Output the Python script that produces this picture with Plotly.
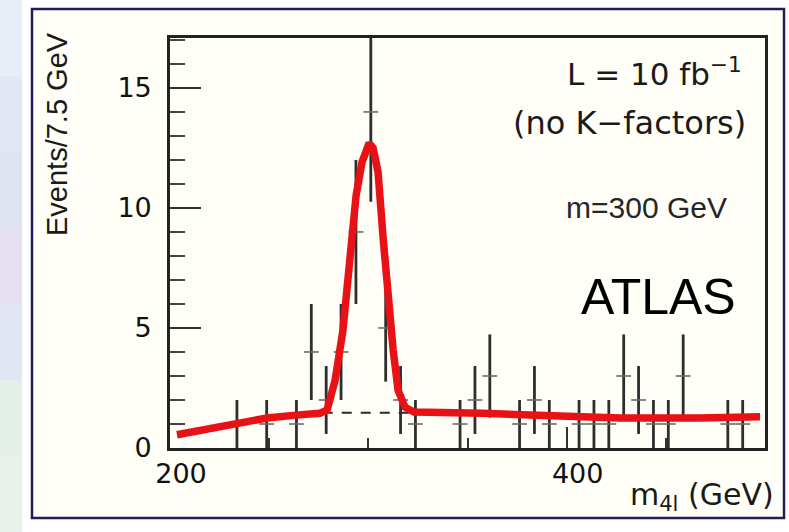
import numpy as np
import plotly.graph_objects as go

# ---- data -------------------------------------------------------------
# four-lepton invariant mass histogram, 7.5 GeV bins from 200 to 500 GeV
bin_low = 200.0
bin_width = 7.5
counts = [0, 0, 0, 0, 1, 0, 1, 0, 1, 4,
          2, 4, 9, 14, 5, 2, 1, 0, 0, 1,
          2, 3, 0, 1, 2, 1, 0, 1, 1, 1,
          3, 2, 1, 1, 3, 0, 0, 1, 1, 0]

# signal + background expectation (red curve)
fit_m = [203.5, 233.8, 248.9, 263.5, 275.6, 279.2, 283.2, 287.2, 290.8,
         293.8, 296.8, 298.8, 300.4, 302.4, 304.9, 307.4, 309.9, 312.5, 315.0,
         318.5, 323.0, 341.2, 357.8, 381.5, 401.7, 426.9, 467.3, 497.5]
fit_y = [0.55, 1.03, 1.25, 1.37, 1.45, 1.58, 2.8, 4.9, 8.25,
         10.5, 11.9, 12.45, 12.7, 12.5, 11.5, 8.8, 6.3, 4.1, 2.4,
         1.7, 1.5, 1.5, 1.45, 1.37, 1.3, 1.25, 1.25, 1.3]

# background-only level under the peak (dashed)
bkg_m = [277.0, 323.0]
bkg_y = [1.47, 1.47]

y_ticks = [0, 5, 10, 15]
x_ticks = [200, 400]

# ---- geometry ---------------------------------------------------------
W, H = 789, 532
L, R, T, B = 170, 765, 38, 448


def px(x):
    return (x - L) / (R - L)


def py(y):
    return (B - y) / (B - T)


centers = [bin_low + bin_width * (i + 0.5) for i in range(len(counts))]
sel = [i for i, n in enumerate(counts) if n > 0]
dm = [centers[i] for i in sel]
dn = [counts[i] for i in sel]
derr = [float(np.sqrt(n)) for n in dn]

fig = go.Figure()

# background dashed line
fig.add_trace(go.Scatter(
    x=bkg_m, y=bkg_y, mode="lines",
    line=dict(color="#2a2a2a", width=2, dash="10px,9px"),
    hoverinfo="skip", showlegend=False))

# data points with Poisson errors and bin-width bars
fig.add_trace(go.Scatter(
    x=dm, y=dn, mode="markers",
    marker=dict(size=1, color="rgba(0,0,0,0)"),
    error_y=dict(type="data", array=derr, visible=True,
                 color="#2e2e2e", thickness=2.8, width=0),
    error_x=dict(type="constant", value=bin_width / 2, visible=True,
                 color="#6a6a6a", thickness=1.6, width=0),
    showlegend=False))

# expectation curve
fig.add_trace(go.Scatter(
    x=fit_m, y=fit_y, mode="lines",
    line=dict(color="rgb(232,18,22)", width=7.5),
    showlegend=False))

shapes = []
# light slide strip on the far left
strip = ["#e9edf7", "#e2e7f4", "#dfe2f1", "#e6dff0", "#e1e6f2", "#e3efe8", "#e8f1ec"]
n = len(strip)
for k, c in enumerate(strip):
    y0 = k * H / n
    y1 = (k + 1) * H / n
    shapes.append(dict(type="rect", xref="paper", yref="paper",
                       x0=px(0), x1=px(22), y0=py(y1), y1=py(y0),
                       fillcolor=c, line=dict(width=0), layer="below"))
# framed panel
shapes.append(dict(type="rect", xref="paper", yref="paper",
                   x0=px(32), x1=px(784), y0=py(518), y1=py(9),
                   fillcolor="#fffef7", line=dict(color="#1c1c5e", width=2.5),
                   layer="below"))

anns = [
    dict(text="Events/7.5 GeV", x=px(57), y=py(134), textangle=-90,
         font=dict(family="Liberation Sans", size=29, color="#1a1a1a"),
         xanchor="center", yanchor="middle"),
    dict(text="L = 10 fb<sup>−1</sup>", x=px(744), y=py(72),
         font=dict(family="DejaVu Sans", size=31, color="#1a1a1a"),
         xanchor="right", yanchor="middle"),
    dict(text="(no K−factors)", x=px(748), y=py(123),
         font=dict(family="DejaVu Sans", size=32, color="#1a1a1a"),
         xanchor="right", yanchor="middle"),
    dict(text="m=300 GeV", x=px(729), y=py(207),
         font=dict(family="Liberation Sans", size=30, color="#262626"),
         xanchor="right", yanchor="middle"),
    dict(text="ATLAS", x=px(738), y=py(297),
         font=dict(family="Liberation Sans", size=50, color="#000000"),
         xanchor="right", yanchor="middle"),
    dict(text="m<sub>4l</sub> (GeV)", x=px(776), y=py(496),
         font=dict(family="DejaVu Sans", size=30, color="#1a1a1a"),
         xanchor="right", yanchor="middle"),
]
for a in anns:
    a.update(xref="paper", yref="paper", showarrow=False)

fig.update_layout(
    width=W, height=H,
    margin=dict(l=L, r=W - R, t=T, b=H - B, pad=0),
    paper_bgcolor="white", plot_bgcolor="white",
    shapes=shapes, annotations=anns,
    xaxis=dict(range=[200, 500], tickvals=x_ticks, ticktext=[str(v) for v in x_ticks],
               ticks="inside", ticklen=21, tickwidth=2.2, tickcolor="#333",
               minor=dict(dtick=50, ticks="inside", ticklen=10, tickwidth=2, tickcolor="#333"),
               showline=True, linecolor="#222", linewidth=2.6, mirror=True,
               showgrid=False, zeroline=False,
               tickfont=dict(family="DejaVu Sans", size=27, color="#111"),
               ticklabelshift=11, ticklabelstandoff=0),
    yaxis=dict(range=[0, 17.08], tickvals=y_ticks, ticktext=[str(v) for v in y_ticks],
               ticks="inside", ticklen=31, tickwidth=2.2, tickcolor="#333",
               minor=dict(dtick=1, ticks="inside", ticklen=15, tickwidth=2, tickcolor="#444"),
               showline=True, linecolor="#222", linewidth=2.6, mirror=True,
               showgrid=False, zeroline=False,
               tickfont=dict(family="DejaVu Sans", size=27, color="#111"),
               ticklabelstandoff=10),
)

fig.write_html("out.html")
